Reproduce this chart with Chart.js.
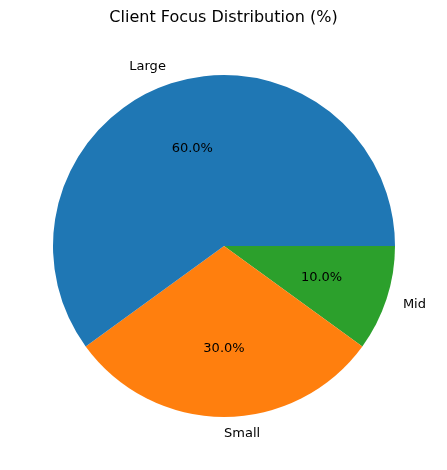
<!DOCTYPE html>
<html>
<head>
<meta charset="utf-8">
<script src="https://cdn.jsdelivr.net/npm/chart.js@4"></script>
<style>
  html, body { margin: 0; padding: 0; background: #fff; }
  #wrap { width: 447px; height: 470px; }
</style>
</head>
<body>
<div id="wrap"><canvas id="pieChart" width="447" height="470"></canvas></div>
<script>
// Data (listed clockwise from 3 o'clock, matching matplotlib's CCW order)
const labels = ['Mid', 'Small', 'Large'];
const shares = [10, 30, 60];
const colors = ['#2ca02c', '#ff7f0e', '#1f77b4'];
const title = 'Client Focus Distribution (%)';

// Draws the title, outer labels and percentage labels
const pieText = {
  id: 'pieText',
  afterDatasetsDraw(chart) {
    const ctx = chart.ctx;
    const total = shares.reduce((a, b) => a + b, 0);
    ctx.save();
    ctx.fillStyle = '#000';
    ctx.font = '16px "DejaVu Sans"';
    ctx.textAlign = 'center';
    ctx.textBaseline = 'middle';
    ctx.fillText(title, chart.width / 2, 18);

    ctx.font = '13px "DejaVu Sans"';
    chart.getDatasetMeta(0).data.forEach((arc, i) => {
      const mid = (arc.startAngle + arc.endAngle) / 2;
      const r = arc.outerRadius;
      const c = Math.cos(mid), s = Math.sin(mid);
      ctx.textAlign = 'center';
      ctx.fillText((shares[i] / total * 100).toFixed(1) + '%', arc.x + c * r * 0.6, arc.y + s * r * 0.6);
      ctx.textAlign = c > -1e-6 ? 'left' : 'right';
      ctx.fillText(labels[i], arc.x + c * r * 1.1, arc.y + s * r * 1.1);
    });
    ctx.restore();
  }
};

new Chart(document.getElementById('pieChart'), {
  type: 'pie',
  data: {
    labels: labels,
    datasets: [{
      data: shares,
      backgroundColor: colors,
      borderWidth: 0,
    }],
  },
  options: {
    responsive: false,
    animation: false,
    rotation: 90,
    layout: { padding: { left: 53, right: 52, top: 75, bottom: 53 } },
    plugins: {
      legend: { display: false },
      tooltip: { enabled: false },
    },
  },
  plugins: [pieText],
});
</script>
</body>
</html>
